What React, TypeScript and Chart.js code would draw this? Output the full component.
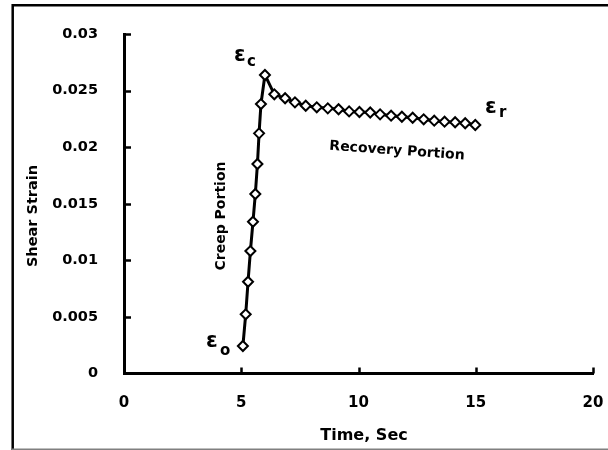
import React, { useEffect, useRef } from 'react';
import { Chart, registerables } from 'chart.js';

Chart.register(...registerables);

// Creep portion (time in s, shear strain)
const creepTime = [5.07, 5.19, 5.29, 5.39, 5.5, 5.6, 5.69, 5.76, 5.84, 6.01];
const creepStrain = [0.00243, 0.00523, 0.00811, 0.01082, 0.01341, 0.01586, 0.01851, 0.02122, 0.02381, 0.02638];

// Recovery portion
const recoveryTime = [6.41, 6.87, 7.29, 7.75, 8.22, 8.69, 9.15, 9.6, 10.04, 10.5, 10.92, 11.39, 11.85, 12.31, 12.78, 13.23, 13.67, 14.12, 14.55, 14.98];
const recoveryStrain = [0.02467, 0.02432, 0.02396, 0.02366, 0.02352, 0.02343, 0.02335, 0.02316, 0.02311, 0.02306, 0.0229, 0.02278, 0.02269, 0.0226, 0.02246, 0.02234, 0.02225, 0.0222, 0.02211, 0.02196];

const xTickLabels = ['0', '5', '10', '15', '20'];
const yTickLabels = ['0', '0.005', '0.01', '0.015', '0.02', '0.025', '0.03'];

const FONT = 'DejaVu Sans';

const decorPlugin = {
  id: 'decor',
  beforeDraw(chart: any) {
    const { ctx, width, height } = chart;
    ctx.save();
    ctx.fillStyle = '#ffffff';
    ctx.fillRect(0, 0, width, height);
    ctx.strokeStyle = '#000000';
    ctx.lineWidth = 2.5;
    ctx.beginPath();
    ctx.moveTo(12.7, height);
    ctx.lineTo(12.7, 5.3);
    ctx.lineTo(width, 5.3);
    ctx.stroke();
    ctx.strokeStyle = '#808080';
    ctx.lineWidth = 1.5;
    ctx.beginPath();
    ctx.moveTo(12, 449.2);
    ctx.lineTo(width, 449.2);
    ctx.stroke();
    ctx.restore();
  },
  beforeDatasetsDraw(chart: any) {
    const { ctx, chartArea, scales } = chart;
    const xs = scales.x;
    const ys = scales.y;
    ctx.save();
    ctx.strokeStyle = '#000000';
    ctx.lineWidth = 2.5;
    ctx.beginPath();
    ys.ticks.forEach((t: any, i: number) => {
      if (i === 0) return;
      const py = Math.round(ys.getPixelForValue(t.value)) + 0.5;
      ctx.moveTo(chartArea.left, py);
      ctx.lineTo(chartArea.left + 7, py);
    });
    xs.ticks.forEach((t: any, i: number) => {
      if (i === 0) return;
      const px = Math.round(xs.getPixelForValue(t.value)) + 0.5;
      ctx.moveTo(px, chartArea.bottom);
      ctx.lineTo(px, chartArea.bottom - 6);
    });
    ctx.stroke();
    ctx.restore();
  },
  afterDraw(chart: any) {
    const { ctx } = chart;
    ctx.save();
    ctx.fillStyle = '#000000';
    ctx.textBaseline = 'alphabetic';
    ctx.textAlign = 'left';
    const eps = (x: number, y: number, sub: string, sx: number, sy: number) => {
      ctx.font = `bold 21px "${FONT}"`;
      ctx.fillText('\u03B5', x, y);
      ctx.font = `bold 15px "${FONT}"`;
      ctx.fillText(sub, sx, sy);
    };
    eps(206, 347, 'o', 220, 355);
    eps(234, 61, 'c', 247, 66);
    eps(485, 113, 'r', 499, 117);

    ctx.font = `bold 14px "${FONT}"`;
    ctx.textAlign = 'center';
    ctx.textBaseline = 'middle';
    ctx.save();
    ctx.translate(221, 216);
    ctx.rotate(-Math.PI / 2);
    ctx.fillText('Creep Portion', 0, 0);
    ctx.restore();

    ctx.save();
    ctx.translate(397, 151);
    ctx.rotate((4.1 * Math.PI) / 180);
    ctx.fillText('Recovery Portion', 0, 0);
    ctx.restore();

    // axis titles
    ctx.font = `bold 14.5px "${FONT}"`;
    ctx.save();
    ctx.translate(33, 216);
    ctx.rotate(-Math.PI / 2);
    ctx.fillText('Shear Strain', 0, 0);
    ctx.restore();
    ctx.font = `bold 16px "${FONT}"`;
    ctx.fillText('Time, Sec', 364, 436);
    ctx.restore();
  },
};

function CreepChart() {
  const ref = useRef<HTMLCanvasElement | null>(null);
  useEffect(() => {
    if (!ref.current) return;
    const points = [
      ...creepTime.map((t, i) => ({ x: t, y: creepStrain[i] })),
      ...recoveryTime.map((t, i) => ({ x: t, y: recoveryStrain[i] })),
    ];
    const chart = new Chart(ref.current, {
      type: 'scatter',
      data: {
        datasets: [
          {
            label: 'Shear Strain',
            data: points,
            showLine: true,
            borderColor: '#000000',
            borderWidth: 3,
            pointStyle: 'rectRot',
            pointRadius: 5,
            pointBorderWidth: 2,
            pointBackgroundColor: '#ffffff',
            pointBorderColor: '#000000',
            tension: 0,
          },
        ],
      },
      options: {
        animation: false,
        responsive: false,
        devicePixelRatio: 1,
        layout: { padding: { left: 0, top: 34, right: 15, bottom: 0 } },
        plugins: {
          legend: { display: false },
          tooltip: { enabled: false },
        },
        scales: {
          x: {
            type: 'linear',
            min: 0,
            max: 20,
            grid: { display: false },
            border: { display: true, color: '#000000', width: 3 },
            ticks: {
              stepSize: 5,
              padding: 13,
              color: '#000000',
              font: { family: FONT, size: 15, weight: 'bold' },
              callback: (_v: any, i: number) => xTickLabels[i],
            },
            afterFit: (s: any) => {
              s.height = 76.5;
              s.paddingLeft = 0;
              s.paddingRight = 0;
            },
          },
          y: {
            type: 'linear',
            min: 0,
            max: 0.03,
            grid: { display: false },
            border: { display: true, color: '#000000', width: 3 },
            ticks: {
              stepSize: 0.005,
              padding: 18,
              color: '#000000',
              font: { family: FONT, size: 14.5, weight: 'bold' },
              callback: (_v: any, i: number) => yTickLabels[i],
            },
            afterFit: (s: any) => {
              s.width = 124;
              s.paddingTop = 0;
              s.paddingBottom = 0;
            },
          },
        },
      },
      plugins: [decorPlugin],
    } as any);
    return () => chart.destroy();
  }, []);
  return <canvas ref={ref} width={608} height={450} style={{ display: 'block' }} />;
}

export default function App() {
  return (
    <div style={{ position: 'absolute', left: 0, top: 0, width: 608, height: 450, background: '#fff' }}>
      <CreepChart />
    </div>
  );
}
